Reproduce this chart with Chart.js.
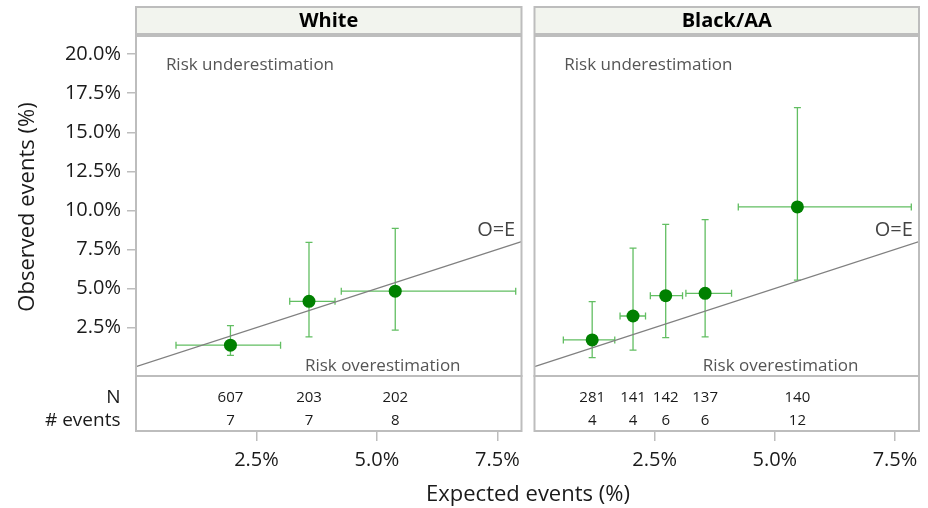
<!DOCTYPE html>
<html>
<head>
<meta charset="utf-8">
<script src="https://cdn.jsdelivr.net/npm/chart.js@4.4.1/dist/chart.umd.min.js"></script>
<style>
  html, body { margin: 0; padding: 0; background: #fff; }
  #wrap { position: relative; width: 928px; height: 508px; overflow: hidden; }
  #wrap canvas { position: absolute; top: 0; }
  #xtitle {
    position: absolute; left: 328px; width: 400px; top: 478px;
    text-align: center; font: 22px 'Open Sans', sans-serif; line-height: 28px; color: #1a1a1a;
  }
</style>
</head>
<body>
<div id="wrap">
  <canvas id="cWhite" width="528" height="508" style="left:0"></canvas>
  <canvas id="cBlack" width="400" height="508" style="left:528px"></canvas>
  <div id="xtitle">Expected events (%)</div>
</div>
<script>
// ---- calibration data (percent) ----
// White
const whiteExpected = [1.96, 3.59, 5.38];
const whiteObserved = [1.37, 4.18, 4.83];
const whiteObsLow   = [0.72, 1.91, 2.33];
const whiteObsHigh  = [2.62, 7.95, 8.85];
const whiteExpLow   = [0.83, 3.19, 4.26];
const whiteExpHigh  = [3.00, 4.13, 7.88];
const whiteN        = [607, 203, 202];
const whiteEvents   = [7, 7, 8];

// Black/AA
const blackExpected = [1.20, 2.05, 2.73, 3.55, 5.47];
const blackObserved = [1.71, 3.24, 4.54, 4.69, 10.22];
const blackObsLow   = [0.58, 1.05, 1.86, 1.90, 5.53];
const blackObsHigh  = [4.16, 7.59, 9.11, 9.41, 16.58];
const blackExpLow   = [0.60, 1.78, 2.41, 3.15, 4.24];
const blackExpHigh  = [1.67, 2.31, 3.08, 4.10, 7.84];
const blackN        = [281, 141, 142, 137, 140];
const blackEvents   = [4, 4, 6, 6, 12];

// axes
const panelTitles = ['White', 'Black/AA'];
const yTicks = [2.5, 5.0, 7.5, 10.0, 12.5, 15.0, 17.5, 20.0];
const xTicks = [2.5, 5.0, 7.5];
const identityLine = [0, 8];          // O=E reference, y = x
const tableRowLabels = ['N', '# events'];

// scale extents: the lower part of the y range holds the count table
const X_MIN = 0, X_MAX = 8;
const Y_MIN = -4.12, Y_MAX = 21.16;
const TABLE_TOP = -0.6;
const TABLE_ROWS_Y = [-1.96, -3.48];

const FONT = "'Open Sans', sans-serif";
const FRAME = '#bdbdbd';
const STRIP_FILL = '#f2f4ee';
const POINT = '#008000';
const ERRBAR = '#62be62';
const OE_LINE = '#808080';
const INK = '#1a1a1a';
const CAP = 3.5;

Chart.defaults.font.family = FONT;

function panelPlugin(p) {
  return {
    id: 'panel' + p.key,
    beforeDatasetsDraw(chart) {
      const { ctx, scales: { x, y } } = chart;
      ctx.save();
      ctx.strokeStyle = ERRBAR;
      ctx.lineWidth = 1.3;
      for (let i = 0; i < p.ex.length; i++) {
        const px = x.getPixelForValue(p.ex[i]);
        const py = y.getPixelForValue(p.ob[i]);
        const yl = y.getPixelForValue(p.obLo[i]);
        const yh = y.getPixelForValue(p.obHi[i]);
        const xl = x.getPixelForValue(p.exLo[i]);
        const xh = x.getPixelForValue(p.exHi[i]);
        ctx.beginPath();
        ctx.moveTo(px, yl); ctx.lineTo(px, yh);
        ctx.moveTo(px - CAP, yl); ctx.lineTo(px + CAP, yl);
        ctx.moveTo(px - CAP, yh); ctx.lineTo(px + CAP, yh);
        ctx.moveTo(xl, py); ctx.lineTo(xh, py);
        ctx.moveTo(xl, py - CAP); ctx.lineTo(xl, py + CAP);
        ctx.moveTo(xh, py - CAP); ctx.lineTo(xh, py + CAP);
        ctx.stroke();
      }
      ctx.restore();
    },
    afterDraw(chart) {
      const { ctx, chartArea: a, scales: { x, y } } = chart;
      const tTop = y.getPixelForValue(TABLE_TOP);
      ctx.save();

      // strip header
      ctx.fillStyle = STRIP_FILL;
      ctx.fillRect(a.left, 7, a.right - a.left, 27);
      ctx.strokeStyle = FRAME;
      ctx.lineWidth = 2;
      ctx.strokeRect(a.left, 7, a.right - a.left, 27);
      ctx.fillStyle = '#000';
      ctx.font = 'bold 20px ' + FONT;
      ctx.textAlign = 'center';
      ctx.textBaseline = 'middle';
      ctx.fillText(p.title, (a.left + a.right) / 2, 21.5);

      // panel and table frames
      ctx.strokeRect(a.left, a.top, a.right - a.left, tTop - a.top);
      ctx.strokeRect(a.left, tTop, a.right - a.left, a.bottom - tTop);

      // region annotations
      ctx.fillStyle = '#555';
      ctx.font = '17px ' + FONT;
      ctx.textAlign = 'left';
      ctx.fillText('Risk underestimation', x.getPixelForValue(0.62), y.getPixelForValue(19.31));
      ctx.textAlign = 'center';
      ctx.fillText('Risk overestimation', x.getPixelForValue(5.12), y.getPixelForValue(0.05));
      ctx.fillStyle = '#444';
      ctx.font = '20px ' + FONT;
      ctx.textAlign = 'right';
      ctx.fillText('O=E', x.getPixelForValue(7.87), y.getPixelForValue(8.7));

      // count table
      ctx.fillStyle = INK;
      ctx.font = '15px ' + FONT;
      ctx.textAlign = 'center';
      const rows = [p.n, p.ev];
      rows.forEach((vals, r) => {
        const ry = y.getPixelForValue(TABLE_ROWS_Y[r]);
        vals.forEach((v, i) => ctx.fillText(String(v), x.getPixelForValue(p.ex[i]), ry));
      });

      if (p.showY) {
        ctx.font = '19px ' + FONT;
        ctx.textAlign = 'right';
        tableRowLabels.forEach((t, r) => ctx.fillText(t, 120.5, y.getPixelForValue(TABLE_ROWS_Y[r])));
        // y axis title
        ctx.save();
        ctx.translate(27.5, 207);
        ctx.rotate(-Math.PI / 2);
        ctx.textAlign = 'center';
        ctx.font = '22px ' + FONT;
        ctx.fillText('Observed events (%)', 0, 0);
        ctx.restore();
      }
      ctx.restore();
    }
  };
}

function makePanel(canvasId, p, padding) {
  const points = p.ex.map((v, i) => ({ x: v, y: p.ob[i] }));
  const oe = identityLine.map(v => ({ x: v, y: v }));
  return new Chart(document.getElementById(canvasId), {
    type: 'scatter',
    data: {
      datasets: [
        { data: points, pointRadius: 6.5, pointHoverRadius: 6.5, backgroundColor: POINT, borderWidth: 0 },
        { type: 'line', data: oe, showLine: true, pointRadius: 0, borderColor: OE_LINE, borderWidth: 1.3, fill: false }
      ]
    },
    options: {
      responsive: false,
      animation: false,
      events: [],
      layout: { padding },
      plugins: { legend: { display: false }, tooltip: { enabled: false } },
      scales: {
        x: {
          type: 'linear', min: X_MIN, max: X_MAX,
          afterBuildTicks: s => { s.ticks = xTicks.map(v => ({ value: v })); },
          afterFit: s => { s.height = 77; },
          ticks: { callback: v => v.toFixed(1) + '%', font: { size: 20 }, color: INK, padding: 7, maxRotation: 0 },
          grid: { drawOnChartArea: false, tickLength: 10, color: FRAME, lineWidth: 1.5 },
          border: { display: false }
        },
        y: {
          type: 'linear', min: Y_MIN, max: Y_MAX,
          display: p.showY,
          afterBuildTicks: s => { s.ticks = yTicks.map(v => ({ value: v })); },
          afterFit: s => { if (p.showY) s.width = 126; },
          ticks: { callback: v => v.toFixed(1) + '%', font: { size: 20 }, color: INK, padding: 6 },
          grid: { drawOnChartArea: false, tickLength: 9, color: FRAME, lineWidth: 1.5 },
          border: { display: false }
        }
      }
    },
    plugins: [panelPlugin(p)]
  });
}

makePanel('cWhite', {
  key: 'W', title: panelTitles[0], showY: true,
  ex: whiteExpected, ob: whiteObserved, obLo: whiteObsLow, obHi: whiteObsHigh,
  exLo: whiteExpLow, exHi: whiteExpHigh, n: whiteN, ev: whiteEvents
}, { left: 10, top: 36, right: 2, bottom: 0 });

makePanel('cBlack', {
  key: 'B', title: panelTitles[1], showY: false,
  ex: blackExpected, ob: blackObserved, obLo: blackObsLow, obHi: blackObsHigh,
  exLo: blackExpLow, exHi: blackExpHigh, n: blackN, ev: blackEvents
}, { left: 3, top: 36, right: 9, bottom: 0 });
</script>
</body>
</html>
